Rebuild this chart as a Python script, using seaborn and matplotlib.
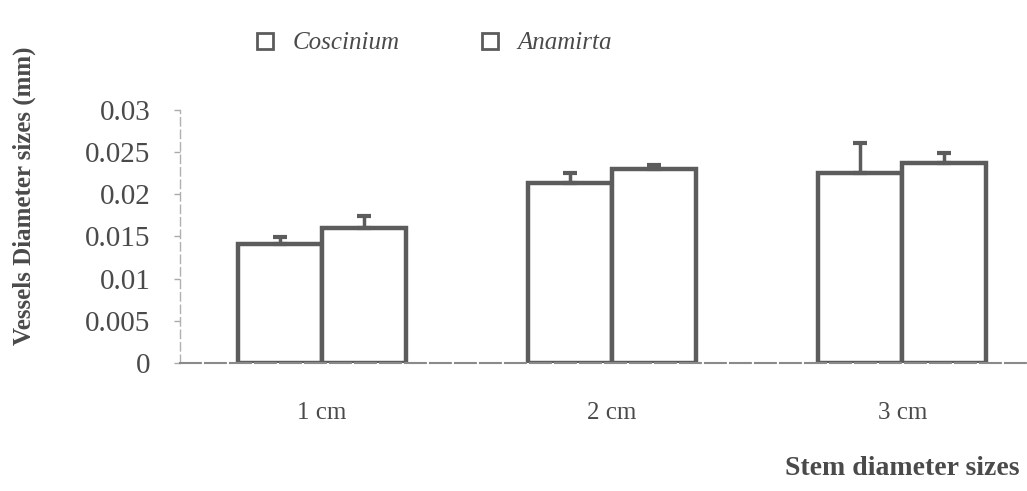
import matplotlib
matplotlib.use("Agg")
import matplotlib.pyplot as plt
import seaborn as sns
import pandas as pd
import numpy as np
from matplotlib.lines import Line2D

categories = ["1 cm", "2 cm", "3 cm"]
species = ["Coscinium", "Anamirta"]
coscinium = [0.0141, 0.0213, 0.0225]
anamirta = [0.0160, 0.0230, 0.0237]
coscinium_err = [0.0008, 0.0012, 0.0036]
anamirta_err = [0.0014, 0.0005, 0.0012]
yticks = [0, 0.005, 0.01, 0.015, 0.02, 0.025, 0.03]
ytick_labels = ["0", "0.005", "0.01", "0.015", "0.02", "0.025", "0.03"]

sns.set_theme(style="white")
plt.rcParams["font.family"] = ["Liberation Serif", "DejaVu Serif"]

df = pd.DataFrame({
    "Stem": categories * 2,
    "Species": [species[0]] * 3 + [species[1]] * 3,
    "Value": coscinium + anamirta,
})

grey = "#5c5c5c"
fig = plt.figure(figsize=(10.27, 4.91), dpi=100)
ax = fig.add_axes([0.175, 0.261, 0.825, 0.515])

sns.barplot(data=df, x="Stem", y="Value", hue="Species", order=categories,
            hue_order=species, palette=["white", "white"], edgecolor=grey,
            linewidth=3.2, width=0.58, errorbar=None, ax=ax, legend=False)

errs = coscinium_err + anamirta_err
vals = coscinium + anamirta
patches = [p for p in ax.patches][:6]
for p, v, e in zip(patches, vals, errs):
    xc = p.get_x() + p.get_width() / 2
    ax.errorbar([xc], [v], yerr=[[0], [e]], fmt="none", ecolor=grey,
                elinewidth=2.5, capsize=5, capthick=3, zorder=1)

ax.set_xlim(-0.49, 2.43)
ax.set_ylim(0, 0.03)
ax.set_yticks(yticks)
ax.set_yticklabels(ytick_labels, fontsize=21, color="#4a4a4a")
ax.tick_params(axis="y", which="both", left=True, length=4, width=1, color="#aaaaaa", pad=17)
ax.tick_params(axis="x", length=0, pad=28)
for lab in ax.get_xticklabels():
    lab.set_fontsize(18)
    lab.set_color("#4a4a4a")
ax.set_xlabel("")
ax.set_ylabel("Vessels Diameter sizes (mm)", fontsize=18, fontweight="bold",
              color="#4a4a4a", labelpad=0)
ax.yaxis.set_label_coords(-0.170, 0.66)

for s in ["top", "right"]:
    ax.spines[s].set_visible(False)
ax.spines["left"].set_color("#b0b0b0")
ax.spines["left"].set_linestyle((0, (6, 3)))
ax.spines["left"].set_linewidth(1)
ax.spines["bottom"].set_color("#8a8a8a")
ax.spines["bottom"].set_linestyle((0, (10, 2)))
ax.spines["bottom"].set_linewidth(1.5)

fig.text(0.993, 0.045, "Stem diameter sizes", ha="right", va="center",
         fontsize=20, fontweight="bold", color="#4a4a4a")

handles = [Line2D([], [], marker="s", linestyle="none", markersize=11,
                  markerfacecolor="white", markeredgecolor=grey, markeredgewidth=2)
           for _ in species]
leg = fig.legend(handles, species, loc="center left", bbox_to_anchor=(0.212, 0.912),
                 ncol=2, frameon=False, handletextpad=0.1, columnspacing=2.6,
                 prop={"family": "Liberation Serif", "style": "italic", "size": 18})
for t in leg.get_texts():
    t.set_color("#4a4a4a")

fig.savefig("out.png", dpi=100, facecolor="white")
